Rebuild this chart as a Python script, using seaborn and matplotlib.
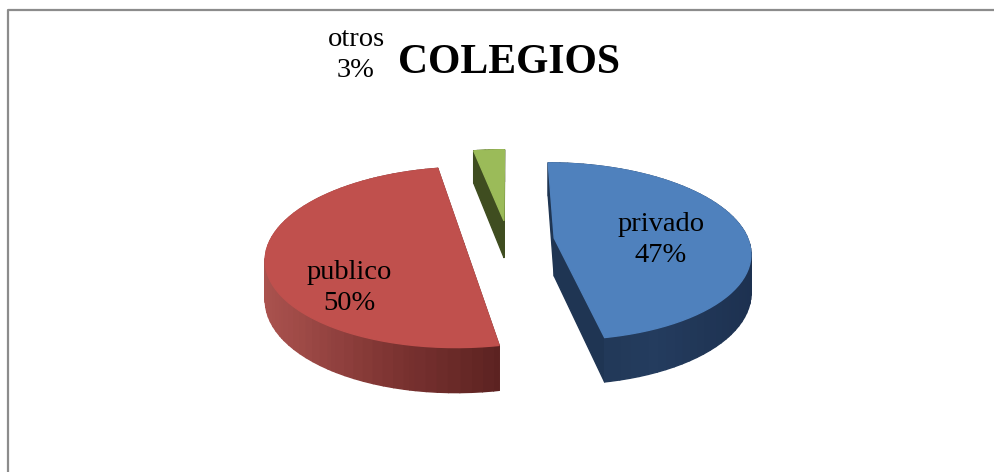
import numpy as np
import seaborn as sns
import matplotlib.pyplot as plt
from matplotlib.collections import PolyCollection
from matplotlib.transforms import Affine2D

labels = ['privado', 'publico', 'otros']
shares = [47, 50, 3]
title = 'COLEGIOS'

# top faces and the dark -> light shading of the side walls
top_colors = ['#4f81bd', '#c0504d', '#9bbb59']
wall_shades = [['#1f3552', '#243c5e', '#1d3150'],
               ['#aa524e', '#7f3533', '#5a2120'],
               ['#3f4d20', '#3f4d20', '#3f4d20']]

sns.set_theme(style='white')
plt.rcParams['font.family'] = ['Liberation Serif', 'DejaVu Serif']

fig = plt.figure(figsize=(9.95, 4.72), dpi=100)
ax = fig.add_axes([0, 0, 1, 1])

# the pie gives the wedge geometry, it is then tilted by hand
wedges, _ = ax.pie(shares, explode=[0.24, 0.23, 0.23], startangle=90, counterclock=False)

cx, cy = 508, 240
rx, ry = 194, 87
k = 0.15
depth = 38


def tilt(pts):
    s = 1 / (1 + k * pts[:, 1])
    return np.c_[cx + rx * pts[:, 0] * s, cy - ry * pts[:, 1] * s], s


for w, top, shades in zip(wedges, top_colors, wall_shades):
    path = w.get_path().transformed(w.get_patch_transform())
    # flatten the curves at a fine scale
    poly = path.to_polygons(Affine2D().scale(400))[0] / 400
    w.remove()
    xy, s = tilt(poly)
    low = xy + np.c_[np.zeros(len(s)), depth * s]

    quads = [[xy[i], xy[i + 1], low[i + 1], low[i]] for i in range(len(xy) - 1)]
    order = np.argsort([q[2][1] + q[3][1] for q in quads])
    cmap = sns.blend_palette(shades, as_cmap=True)
    xm = xy[:, 0]
    colors = [cmap((quads[i][0][0] - xm.min()) / (xm.max() - xm.min())) for i in order]
    ax.add_collection(PolyCollection([quads[i] for i in order], facecolors=colors,
                                     edgecolors=colors, linewidths=1.0))
    ax.fill(xy[:, 0], xy[:, 1], color=top, lw=1.0)

ax.set_aspect('auto')
ax.set_xlim(0, 995)
ax.set_ylim(472, 0)
ax.axis('off')

# chart frame, only top and left fall inside the crop
ax.plot([8, 8, 995], [472, 10, 10], color='#8c8c8c', lw=1.6)

pos = [(661, 240), (349, 288), (356, 55)]
for name, val, (x, y) in zip(labels, shares, pos):
    ax.text(x, y, f'{name}\n{val}%', ha='center', va='center', fontsize=20.5,
            linespacing=1.3, color='black')
ax.text(509, 63, title, ha='center', va='center', fontsize=30, fontweight='bold', color='black')

fig.savefig('out.png', dpi=100)
